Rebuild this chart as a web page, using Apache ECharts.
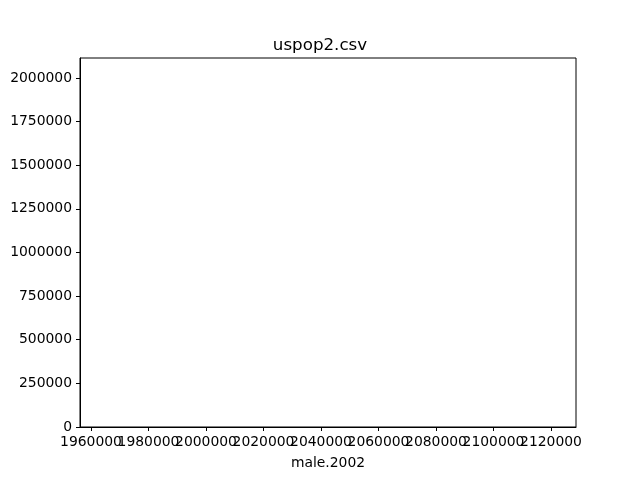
<!DOCTYPE html>
<html><head><meta charset="utf-8">
<script src="https://cdn.jsdelivr.net/npm/echarts@6/dist/echarts.min.js"></script>
<style>html,body{margin:0;padding:0;background:#fff}#c{width:640px;height:480px}</style>
</head><body><div id="c"></div>
<script>
const xTicks = [1960000,1980000,2000000,2020000,2040000,2060000,2080000,2100000,2120000];
const yTicks = [0,250000,500000,750000,1000000,1250000,1500000,1750000,2000000];
const points = [];
const xMin = 1956174, xMax = 2128696, yMax = 2114600;
const xAll = [xMin].concat(xTicks, [xMax]);
const chart = echarts.init(document.getElementById('c'));
const font = 'DejaVu Sans';
chart.setOption({
  animation:false,
  backgroundColor:'#fff',
  title:{text:'uspop2.csv',left:'center',top:32,textStyle:{fontFamily:font,fontSize:16.7,fontWeight:'normal',color:'#000'}},
  grid:{left:80,right:64,top:58,bottom:53,show:true,borderColor:'#000',borderWidth:1,backgroundColor:'transparent'},
  xAxis:{type:'value',min:xMin,max:xMax,name:'male.2002',nameLocation:'middle',nameGap:29,
    nameTextStyle:{fontFamily:font,fontSize:13.9,color:'#000'},
    splitLine:{show:false},
    axisLine:{show:true,onZero:false,lineStyle:{color:'#000'}},
    axisTick:{show:true,inside:false,length:4,customValues:xAll,lineStyle:{color:'#000'}},
    axisLabel:{customValues:xAll,hideOverlap:false,showMinLabel:false,showMaxLabel:false,margin:8,
      fontFamily:font,fontSize:13.9,color:'#000',formatter:v=>xTicks.indexOf(v)>=0?String(v):''}},
  yAxis:{type:'value',min:0,max:yMax,
    splitLine:{show:false},
    axisLine:{show:true,lineStyle:{color:'#000'}},
    axisTick:{show:true,inside:false,length:4,customValues:yTicks,lineStyle:{color:'#000'}},
    axisLabel:{customValues:yTicks,hideOverlap:false,margin:8,fontFamily:font,fontSize:13.9,color:'#000',formatter:v=>String(v)}},
  series:[{type:'scatter',data:points,symbolSize:4,itemStyle:{color:'#1f77b4'}}]
});
</script></body></html>
